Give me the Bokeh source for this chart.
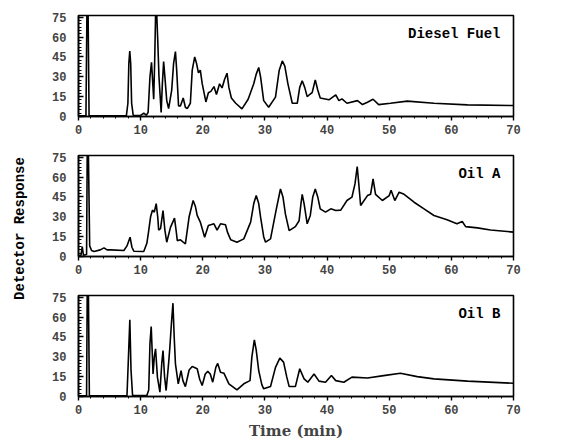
import math
from bokeh.plotting import figure
from bokeh.layouts import column, row
from bokeh.models import Range1d, Label, FixedTicker
from bokeh.core.properties import value
from bokeh.embed import file_html
from bokeh.resources import INLINE

# ---- data (time in min, detector response) ----
diesel_t = [0, 1.2, 1.35, 1.55, 1.7, 7.7, 7.95, 8.1, 8.25, 8.4, 8.55, 8.8, 10.0, 10.5, 10.9, 11.2,
            11.5, 11.75, 11.95, 12.1, 12.25, 12.4, 12.6, 12.75, 12.95, 13.3, 13.5, 13.7, 13.9,
            14.2, 14.5, 15.0, 15.3, 15.6, 15.8, 16.1, 16.4, 16.85, 17.2, 17.5, 18.0, 18.3, 18.7,
            19.0, 19.3, 19.6, 19.9, 20.5, 20.9, 21.3, 21.8, 22.2, 22.7, 23.1, 23.5, 23.9, 24.2,
            24.6, 25.3, 26.3, 27.3, 28.2, 28.6, 29.0, 29.3, 29.8, 30.6, 31.7, 32.3, 32.8, 33.2,
            33.7, 34.4, 35.2, 35.6, 36.0, 36.4, 36.8, 37.3, 37.6, 38.1, 38.5, 38.9, 40.3, 41.4,
            41.9, 42.4, 43.2, 44.9, 45.7, 46.5, 47.4, 48.3, 50.2, 52.9, 57.2, 62.6, 70]
diesel_y = [0.5, 0.5, 76, 76, 0.5, 0.5, 10, 40, 49.5, 40, 10, 1, 0.8, 2.5, 1, 3,
            30, 41, 25, 13, 40, 76, 76, 58, 30, 3, 25, 41.5, 30,
            12, 6, 20, 40, 49, 35, 8, 8, 14, 7, 6, 10, 35, 45,
            40, 33, 35, 25, 11, 18, 19, 22.6, 16.6, 24.7, 21.6, 28, 32.7, 22,
            14, 10, 5.8, 13, 24.7, 32, 37, 30, 12, 7, 14.6, 35, 42, 38,
            24.7, 10, 10, 22, 27, 22, 15, 17, 18, 27.7, 20, 14, 12.6, 16.4,
            12, 13.3, 10, 12, 9, 10.8, 13, 9, 10, 11.6, 10, 8.8, 8.3]

oila_t = [0, 0.4, 0.6, 0.8, 1.3, 1.4, 1.6, 1.8, 2.1, 2.5, 3.5, 4.1, 4.6, 5.2, 7.3, 7.8, 8.3, 8.6,
          8.9, 10.5, 11.0, 11.3, 11.6, 11.9, 12.2, 12.5, 12.75, 12.9, 13.2, 13.6, 13.9, 14.2,
          14.8, 15.45, 15.7, 15.9, 16.4, 16.8, 17.2, 17.8, 18.45, 18.8, 19.1, 19.6, 20.3, 20.9,
          21.8, 22.3, 22.85, 23.65, 24.0, 24.5, 25.5, 26.6, 27.7, 28.2, 28.6, 29.0, 29.3, 29.8,
          30.1, 30.9, 31.8, 32.5, 32.9, 33.3, 33.9, 34.9, 35.5, 35.8, 36.0, 36.3, 36.8, 37.3,
          37.7, 38.1, 38.5, 38.9, 39.75, 40.6, 41.4, 42.2, 43.2, 44.0, 44.5, 44.85, 45.1, 45.4,
          46.5, 47.0, 47.4, 47.8, 48.9, 50.0, 50.3, 50.9, 51.6, 52.4, 54.0, 55.6, 57.2, 59.3,
          60.9, 61.75, 62.3, 64.2, 66.3, 70]
oila_y = [0.5, 1, 7.5, 1, 1.5, 76, 76, 8, 4.5, 3.8, 5, 6.5, 5, 5, 4.5, 8, 14.6, 7,
          4, 3.8, 10, 19.6, 30, 35, 33.5, 40, 30, 20, 21, 34.7, 20, 10.8,
          22, 29, 20, 12, 12.6, 11, 9.6, 30, 42.3, 38, 31, 26, 14.6, 23.4,
          24.7, 20, 24.7, 24, 18, 12.6, 10.8, 13.3, 26, 40, 46, 40, 29.7, 15,
          10.8, 13.3, 35, 51, 45, 32, 19.6, 22.6, 27, 40, 47, 40, 24.7, 31,
          45, 51, 45, 36, 33.5, 36, 34.7, 35, 42.3, 44.8, 55, 68, 55, 38.5,
          46, 47, 58.6, 47, 42.3, 46, 50, 42.3, 48.6, 47, 41, 36, 31, 27.7,
          24.7, 26.4, 22.6, 21.6, 20, 18.4]

oilb_t = [0, 1.3, 1.4, 1.6, 1.75, 7.8, 8.0, 8.26, 8.45, 8.7, 11.0, 11.3, 11.5, 11.7, 11.85, 12.0,
          12.2, 12.4, 12.7, 13.1, 13.4, 13.6, 13.85, 14.1, 14.5, 14.7, 14.95, 15.2, 15.4, 15.6,
          16.05, 16.5, 16.8, 17.2, 17.8, 18.3, 19.1, 19.5, 19.9, 20.4, 20.8, 21.2, 21.6, 22.1,
          22.4, 22.85, 23.4, 24.2, 25.5, 26.6, 27.6, 27.9, 28.3, 28.6, 29.0, 29.5, 29.8, 30.9,
          31.7, 32.4, 33.0, 33.5, 33.9, 34.9, 35.6, 36.3, 36.9, 37.9, 38.7, 39.75, 40.7, 41.4,
          42.7, 44.0, 46.5, 49.1, 51.8, 54.5, 57.2, 62.6, 70]
oilb_y = [0.5, 0.5, 76, 76, 0.5, 0.5, 25, 58, 20, 0.8, 0.8, 5, 40, 52.8, 35, 17,
          30, 36, 14.6, 3.3, 25, 34.7, 15, 4.5, 25, 37, 55, 70.5, 45, 24.7,
          9.6, 19.6, 12, 7.5, 20, 22.6, 21, 13, 8.3, 17, 19, 17, 10.8, 22,
          25, 18.4, 17.6, 9.6, 5, 9.6, 12, 30, 42.8, 35, 19.6, 9, 5.8, 7.5,
          22, 29, 26, 15, 7.5, 7.5, 21, 13.3, 10.8, 17, 11.6, 10.8, 15.8, 12,
          10.8, 14.6, 14, 15.8, 17.6, 15, 13.3, 11.6, 10]

panel_names = ["Diesel Fuel", "Oil A", "Oil B"]
x_ticks = [0, 10, 20, 30, 40, 50, 60, 70]
y_ticks = [0, 15, 30, 45, 60, 75]
y_title = "Detector Response"

series = [(diesel_t, diesel_y), (oila_t, oila_y), (oilb_t, oilb_y)]

MONO = "Liberation Mono"
figs = []
for i, ((t, y), name) in enumerate(zip(series, panel_names)):
    last = i == 2
    p = figure(width=538, height=164 if last else 140,
               x_range=Range1d(0, 70), y_range=Range1d(0, 76.3),
               output_backend="svg", toolbar_location=None,
               min_border_left=48, min_border_right=55,
               min_border_top=15, min_border_bottom=48 if last else 24)
    p.line(t, y, line_color="black", line_width=1.6)
    p.grid.visible = False
    p.outline_line_color = "black"
    p.outline_line_width = 1.6
    p.background_fill_color = "white"
    p.border_fill_color = "white"

    xa = p.xaxis[0]
    xa.ticker = FixedTicker(ticks=x_ticks, minor_ticks=[v for v in range(0, 71, 2)])
    xa.major_tick_in = 0
    xa.major_tick_out = 4
    xa.minor_tick_in = 0
    xa.minor_tick_out = 2
    xa.axis_line_width = 1.6
    xa.major_tick_line_width = 1.4
    xa.major_label_text_font = MONO
    xa.major_label_text_font_style = "bold"
    xa.major_label_text_font_size = "12px"
    xa.major_label_standoff = 4
    if last:
        xa.axis_label = "Time (min)"
        xa.axis_label_text_font = "DejaVu Serif"
        xa.axis_label_text_font_style = "bold"
        xa.axis_label_text_font_size = "15px"
        xa.axis_label_standoff = 5

    ya = p.yaxis[0]
    ya.ticker = FixedTicker(ticks=y_ticks, minor_ticks=[v * 2.5 for v in range(0, 31)])
    ya.major_tick_in = 5
    ya.major_tick_out = 0
    ya.minor_tick_in = 3
    ya.minor_tick_out = 0
    ya.axis_line_width = 1.6
    ya.major_tick_line_width = 1.4
    ya.major_label_text_font = MONO
    ya.major_label_text_font_style = "bold"
    ya.major_label_text_font_size = "12px"
    ya.major_label_standoff = 12

    p.add_layout(Label(x=67.9, y=62.5, text=name, text_align="right", text_baseline="middle",
                       text_font=MONO, text_font_style="bold", text_font_size="14px",
                       text_color="black"))
    figs.append(p)

# narrow strip holding the shared y title
side = figure(width=30, height=444, x_range=Range1d(0, 30), y_range=Range1d(0, 444),
              output_backend="svg", toolbar_location=None, min_border=0)
side.axis.visible = False
side.grid.visible = False
side.outline_line_color = None
side.text(x=[19], y=[216], text=[y_title], angle=math.pi / 2,
          text_align="center", text_baseline="middle",
          text_font=value(MONO), text_font_style="bold", text_font_size="14px",
          text_color="black")

layout = row(side, column(*figs, spacing=0), spacing=0)
open("out.html", "w").write(file_html(layout, INLINE))
